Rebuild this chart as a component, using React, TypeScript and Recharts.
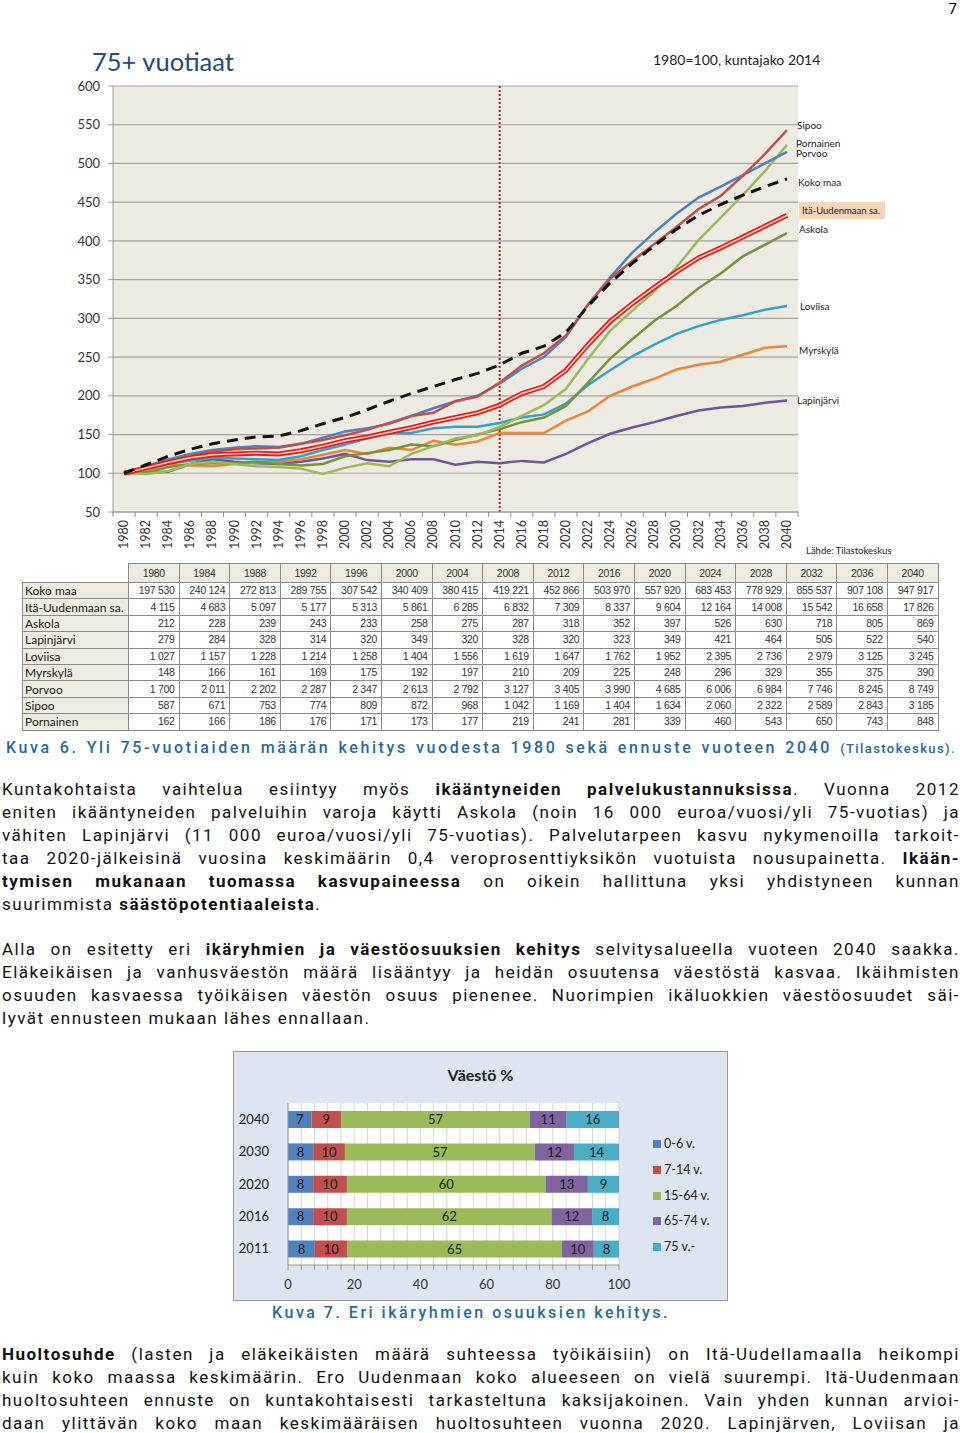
import React from 'react'
import {
  Bar,
  BarChart,
  CartesianGrid,
  LabelList,
  Line,
  LineChart,
  ReferenceLine,
  XAxis,
  YAxis,
} from 'recharts'

// 75+ index lines, 1980=100, every second year
const years = [
  1980, 1982, 1984, 1986, 1988, 1990, 1992, 1994, 1996, 1998, 2000, 2002, 2004, 2006, 2008, 2010,
  2012, 2014, 2016, 2018, 2020, 2022, 2024, 2026, 2028, 2030, 2032, 2034, 2036, 2038, 2040,
]
const markYears = [
  1979, 1981, 1983, 1985, 1987, 1989, 1991, 1993, 1995, 1997, 1999, 2001, 2003, 2005, 2007, 2009,
  2011, 2013, 2015, 2017, 2019, 2021, 2023, 2025, 2027, 2029, 2031, 2033, 2035, 2037, 2039, 2041,
]
const kokoMaa = [100, 111, 122, 131, 138, 143, 147, 148, 155, 164, 172, 182, 193, 203, 212, 221, 229, 240, 255, 264, 282, 316, 346, 371, 394, 415, 433, 447, 459, 470, 480]
const itaUusimaa = [100, 107, 114, 120, 124, 125, 126, 125, 129, 135, 142, 147, 153, 159, 166, 172, 178, 188, 203, 212, 233, 266, 296, 319, 340, 360, 378, 391, 405, 419, 433]
const sipoo = [100, 108, 114, 122, 128, 131, 132, 133, 138, 143, 149, 156, 165, 174, 178, 193, 199, 217, 239, 255, 278, 318, 351, 374, 396, 418, 441, 458, 484, 512, 543]
const porvoo = [100, 109, 118, 125, 130, 133, 135, 134, 138, 146, 154, 158, 164, 174, 184, 193, 200, 216, 235, 250, 276, 318, 353, 385, 411, 435, 456, 470, 485, 500, 515]
const pornainen = [100, 99, 103, 112, 115, 112, 109, 108, 106, 99, 107, 113, 109, 125, 135, 145, 149, 160, 174, 188, 209, 248, 284, 310, 335, 366, 401, 430, 459, 490, 524]
const askola = [100, 101, 108, 112, 113, 113, 115, 112, 110, 112, 122, 126, 130, 137, 135, 143, 150, 157, 166, 172, 187, 217, 248, 273, 297, 316, 339, 358, 380, 395, 410]
const loviisa = [100, 106, 113, 116, 120, 119, 118, 117, 122, 130, 137, 145, 152, 152, 158, 160, 160, 165, 172, 176, 190, 214, 233, 251, 266, 280, 290, 298, 304, 311, 316]
const myrskyla = [100, 104, 112, 110, 109, 112, 114, 115, 118, 124, 130, 125, 133, 130, 142, 137, 141, 152, 152, 152, 168, 180, 200, 212, 222, 234, 240, 244, 253, 262, 264]
const lapinjarvi = [100, 101, 102, 112, 118, 115, 113, 112, 115, 119, 125, 117, 115, 118, 118, 111, 115, 113, 116, 114, 125, 139, 151, 159, 166, 174, 181, 185, 187, 191, 194]
const yTicks = [50, 100, 150, 200, 250, 300, 350, 400, 450, 500, 550, 600]

const lineData = years.map((year, i) => ({
  year,
  kokoMaa: kokoMaa[i],
  itaUusimaa: itaUusimaa[i],
  sipoo: sipoo[i],
  porvoo: porvoo[i],
  pornainen: pornainen[i],
  askola: askola[i],
  loviisa: loviisa[i],
  myrskyla: myrskyla[i],
  lapinjarvi: lapinjarvi[i],
}))

// table under the line chart (number of 75+)
const tableYears = [1980, 1984, 1988, 1992, 1996, 2000, 2004, 2008, 2012, 2016, 2020, 2024, 2028, 2032, 2036, 2040]
const tableNames = ['Koko maa', 'Itä-Uudenmaan sa.', 'Askola', 'Lapinjärvi', 'Loviisa', 'Myrskylä', 'Porvoo', 'Sipoo', 'Pornainen']
const tKokoMaa = [197530, 240124, 272813, 289755, 307542, 340409, 380415, 419221, 452866, 503970, 557920, 683453, 778929, 855537, 907108, 947917]
const tIta = [4115, 4683, 5097, 5177, 5313, 5861, 6285, 6832, 7309, 8337, 9604, 12164, 14008, 15542, 16658, 17826]
const tAskola = [212, 228, 239, 243, 233, 258, 275, 287, 318, 352, 397, 526, 630, 718, 805, 869]
const tLapinjarvi = [279, 284, 328, 314, 320, 349, 320, 328, 320, 323, 349, 421, 464, 505, 522, 540]
const tLoviisa = [1027, 1157, 1228, 1214, 1258, 1404, 1556, 1619, 1647, 1762, 1952, 2395, 2736, 2979, 3125, 3245]
const tMyrskyla = [148, 166, 161, 169, 175, 192, 197, 210, 209, 225, 248, 296, 329, 355, 375, 390]
const tPorvoo = [1700, 2011, 2202, 2287, 2347, 2613, 2792, 3127, 3405, 3990, 4685, 6006, 6984, 7746, 8245, 8749]
const tSipoo = [587, 671, 753, 774, 809, 872, 968, 1042, 1169, 1404, 1634, 2060, 2322, 2589, 2843, 3185]
const tPornainen = [162, 166, 186, 176, 171, 173, 177, 219, 241, 281, 339, 460, 543, 650, 743, 848]
const tableRows = [tKokoMaa, tIta, tAskola, tLapinjarvi, tLoviisa, tMyrskyla, tPorvoo, tSipoo, tPornainen]

// Väestö % stacked bars
const barYears = ['2040', '2030', '2020', '2016', '2011']
const age0to6 = [7.1, 7.6, 7.6, 7.6, 8.1]
const age7to14 = [9.0, 9.6, 10.2, 10.2, 9.9]
const age15to64 = [56.9, 57.4, 60.0, 61.8, 64.7]
const age65to74 = [11.2, 11.8, 12.8, 12.3, 9.7]
const age75 = [15.8, 13.6, 9.4, 8.1, 7.6]
const barTicks = [0, 4, 8, 12, 16, 20, 24, 28, 32, 36, 40, 44, 48, 52, 56, 60, 64, 68, 72, 76, 80, 84, 88, 92, 96, 100]

const barData = barYears.map((year, i) => ({
  year,
  a: age0to6[i],
  b: age7to14[i],
  c: age15to64[i],
  d: age65to74[i],
  e: age75[i],
}))

const barSeries = [
  { key: 'a', name: '0-6 v.', color: '#4F81BD' },
  { key: 'b', name: '7-14 v.', color: '#C0504D' },
  { key: 'c', name: '15-64 v.', color: '#9BBB59' },
  { key: 'd', name: '65-74 v.', color: '#8064A2' },
  { key: 'e', name: '75 v.-', color: '#4BACC6' },
]

const chartFont = 'Lato, "Open Sans", sans-serif'
const textFont = 'Roboto, "Liberation Sans", sans-serif'

const fmt = (n: number) => n.toString().replace(/\B(?=(\d{3})+(?!\d))/g, '\u00A0')

function YearTick({ x, y, payload }: any) {
  if (payload.value % 2 !== 0) {
    return <line x1={x} x2={x} y1={y} y2={y + 5} stroke="#8c8c8c" />
  }
  return (
    <text
      transform={`translate(${x + 4},${y + 8}) rotate(-90)`}
      textAnchor="end"
      fontSize={12.5}
      fontFamily={chartFont}
      fill="#333"
    >
      {payload.value}
    </text>
  )
}

function PercentTick({ x, y, payload }: any) {
  return (
    <g>
      <line x1={x} x2={x} y1={y} y2={y + 5} stroke="#9a9a9a" />
      {payload.value % 20 === 0 && (
        <text x={x} y={y + 24} textAnchor="middle" fontSize={13} fontFamily={chartFont} fill="#333">
          {payload.value}
        </text>
      )}
    </g>
  )
}

const sideLabels = [
  { text: 'Sipoo', x: 797, y: 125 },
  { text: 'Pornainen', x: 796, y: 143 },
  { text: 'Porvoo', x: 796, y: 153 },
  { text: 'Koko maa', x: 798, y: 182 },
  { text: 'Askola', x: 799, y: 229 },
  { text: 'Loviisa', x: 800, y: 306 },
  { text: 'Myrskylä', x: 799, y: 350 },
  { text: 'Lapinjärvi', x: 797, y: 400 },
]

function Line1({ children, last }: { children: React.ReactNode; last?: boolean }) {
  return (
    <div
      style={{
        height: 23,
        lineHeight: '23px',
        textAlign: last ? 'left' : 'justify',
        textAlignLast: last ? 'left' : 'justify',
        overflow: 'visible',
      }}
    >
      {children}
    </div>
  )
}

const paraStyle: React.CSSProperties = {
  position: 'absolute',
  left: 2,
  width: 958,
  fontFamily: textFont,
  fontSize: 17,
  letterSpacing: 1.5,
  color: '#111',
}

const captionColor = '#1F6B99'

export default function App() {
  return (
    <div
      style={{
        position: 'absolute',
        left: 0,
        top: 0,
        width: 960,
        height: 1433,
        background: '#fff',
        overflow: 'hidden',
      }}
    >
      <div style={{ position: 'absolute', right: 3, top: 1, fontFamily: textFont, fontSize: 15, lineHeight: '16px' }}>
        7
      </div>

      {/* line chart */}
      <div style={{ position: 'absolute', left: 0, top: 0 }}>
        <LineChart
          width={960}
          height={560}
          data={lineData}
          margin={{ top: 86, right: 162, left: 53, bottom: 0 }}
        >
          <CartesianGrid vertical={false} fill="#EDEAE1" stroke="#a3a3a3" strokeWidth={1.2} />
          <XAxis
            dataKey="year"
            type="number"
            domain={[1979, 2041]}
            ticks={[...markYears, ...years].sort((a, b) => a - b)}
            interval={0}
            tickLine={false}
            tickSize={0}
            tickMargin={0}
            tick={<YearTick />}
            height={48}
            stroke="#9a9a9a"
          />
          <YAxis
            domain={[50, 600]}
            ticks={yTicks}
            width={60}
            tickSize={5}
            tickMargin={8}
            stroke="#9a9a9a"
            tick={{ fontSize: 13, fontFamily: chartFont, fill: '#333' }}
          />
          <ReferenceLine x={2014} stroke="#B22222" strokeWidth={2} strokeDasharray="2 2" />
          <Line dataKey="lapinjarvi" stroke="#6F559A" strokeWidth={2.5} dot={false} isAnimationActive={false} />
          <Line dataKey="myrskyla" stroke="#E8863A" strokeWidth={2.5} dot={false} isAnimationActive={false} />
          <Line dataKey="loviisa" stroke="#33A3C4" strokeWidth={2.5} dot={false} isAnimationActive={false} />
          <Line dataKey="askola" stroke="#77933C" strokeWidth={2.5} dot={false} isAnimationActive={false} />
          <Line dataKey="pornainen" stroke="#9BBB59" strokeWidth={2.5} dot={false} isAnimationActive={false} />
          <Line dataKey="porvoo" stroke="#4F81BD" strokeWidth={2.5} dot={false} isAnimationActive={false} />
          <Line dataKey="sipoo" stroke="#C0504D" strokeWidth={2.5} dot={false} isAnimationActive={false} />
          <Line dataKey="itaUusimaa" stroke="#E3211C" strokeWidth={5} dot={false} isAnimationActive={false} />
          <Line dataKey="itaUusimaa" stroke="#F4D9D4" strokeWidth={1.4} dot={false} isAnimationActive={false} />
          <Line
            dataKey="kokoMaa"
            stroke="#111"
            strokeWidth={3}
            strokeDasharray="11 7"
            dot={false}
            isAnimationActive={false}
          />
        </LineChart>
      </div>

      <div
        style={{
          position: 'absolute',
          left: 92,
          top: 46,
          fontFamily: chartFont,
          fontSize: 25.5,
          color: '#244A7A',
          lineHeight: '30px',
        }}
      >
        75+ vuotiaat
      </div>
      <div
        style={{
          position: 'absolute',
          left: 653,
          top: 51,
          fontFamily: chartFont,
          fontSize: 14,
          color: '#222',
          lineHeight: '18px',
        }}
      >
        1980=100, kuntajako 2014
      </div>
      {sideLabels.map((l) => (
        <div
          key={l.text}
          style={{
            position: 'absolute',
            left: l.x,
            top: l.y - 7,
            fontFamily: chartFont,
            fontSize: 10,
            lineHeight: '14px',
            color: '#222',
          }}
        >
          {l.text}
        </div>
      ))}
      <div
        style={{
          position: 'absolute',
          left: 799,
          top: 202,
          width: 86,
          height: 17,
          background: '#FAD5B5',
          fontFamily: chartFont,
          fontSize: 9.5,
          lineHeight: '17px',
          color: '#222',
          paddingLeft: 3,
          boxSizing: 'border-box',
        }}
      >
        Itä-Uudenmaan sa.
      </div>
      <div
        style={{
          position: 'absolute',
          left: 806,
          top: 544,
          fontFamily: chartFont,
          fontSize: 9.5,
          lineHeight: '14px',
          color: '#222',
        }}
      >
        Lähde: Tilastokeskus
      </div>

      {/* table */}
      <table
        style={{
          position: 'absolute',
          left: 22,
          top: 563,
          width: 916,
          borderCollapse: 'collapse',
          tableLayout: 'fixed',
          fontFamily: '"Liberation Sans", Arial, sans-serif',
          fontSize: 10.5,
          color: '#333',
        }}
      >
        <colgroup>
          <col style={{ width: 106 }} />
          {tableYears.map((y) => (
            <col key={y} style={{ width: 50.6 }} />
          ))}
        </colgroup>
        <tbody>
          <tr style={{ height: 19 }}>
            <td style={{ border: 'none', padding: 0 }} />
            {tableYears.map((y) => (
              <td
                key={y}
                style={{
                  border: '1px solid #8a8a8a',
                  background: '#EEECE1',
                  textAlign: 'center',
                  padding: 0,
                  letterSpacing: -0.3,
                }}
              >
                {y}
              </td>
            ))}
          </tr>
          {tableRows.map((row, r) => (
            <tr key={tableNames[r]} style={{ height: 16.4 }}>
              <td
                style={{
                  border: '1px solid #8a8a8a',
                  background: '#EEECE1',
                  padding: '0 0 0 2px',
                  fontFamily: chartFont,
                  fontSize: 12,
                  color: '#222',
                  whiteSpace: 'nowrap',
                  lineHeight: '15px',
                }}
              >
                {tableNames[r]}
              </td>
              {row.map((v, c) => (
                <td
                  key={c}
                  style={{
                    border: '1px solid #8a8a8a',
                    textAlign: 'right',
                    padding: '0 4px 0 0',
                    letterSpacing: -0.3,
                    lineHeight: '15px',
                    whiteSpace: 'nowrap',
                  }}
                >
                  {fmt(v)}
                </td>
              ))}
            </tr>
          ))}
        </tbody>
      </table>

      {/* caption 6 */}
      <div
        style={{
          position: 'absolute',
          left: 6,
          top: 738,
          width: 950,
          height: 20,
          lineHeight: '20px',
          fontFamily: textFont,
          fontWeight: 500,
          fontSize: 16,
          letterSpacing: 2.6,
          color: captionColor,
          textAlign: 'justify',
          textAlignLast: 'justify',
        }}
      >
        Kuva 6. Yli 75-vuotiaiden määrän kehitys vuodesta 1980 sekä ennuste vuoteen 2040{' '}
        <span style={{ fontSize: 13, letterSpacing: 1.4 }}>(Tilastokeskus).</span>
      </div>

      {/* paragraph 1 */}
      <div style={{ ...paraStyle, top: 777.5 }}>
        <Line1>
          Kuntakohtaista vaihtelua esiintyy myös <b>ikääntyneiden palvelukustannuksissa</b>. Vuonna 2012
        </Line1>
        <Line1>
          eniten ikääntyneiden palveluihin varoja käytti Askola (noin 16 000 euroa/vuosi/yli 75-vuotias) ja
        </Line1>
        <Line1>
          vähiten Lapinjärvi (11 000 euroa/vuosi/yli 75-vuotias). Palvelutarpeen kasvu nykymenoilla tarkoit-
        </Line1>
        <Line1>
          taa 2020-jälkeisinä vuosina keskimäärin 0,4 veroprosenttiyksikön vuotuista nousupainetta. <b>Ikään-</b>
        </Line1>
        <Line1>
          <b>tymisen mukanaan tuomassa kasvupaineessa</b> on oikein hallittuna yksi yhdistyneen kunnan
        </Line1>
        <Line1 last>
          suurimmista <b>säästöpotentiaaleista</b>.
        </Line1>
      </div>

      {/* paragraph 2 */}
      <div style={{ ...paraStyle, top: 937.5 }}>
        <Line1>
          Alla on esitetty eri <b>ikäryhmien ja väestöosuuksien kehitys</b> selvitysalueella vuoteen 2040 saakka.
        </Line1>
        <Line1>Eläkeikäisen ja vanhusväestön määrä lisääntyy ja heidän osuutensa väestöstä kasvaa. Ikäihmisten</Line1>
        <Line1>osuuden kasvaessa työikäisen väestön osuus pienenee. Nuorimpien ikäluokkien väestöosuudet säi-</Line1>
        <Line1 last>lyvät ennusteen mukaan lähes ennallaan.</Line1>
      </div>

      {/* bar chart box */}
      <div
        style={{
          position: 'absolute',
          left: 233,
          top: 1051,
          width: 495,
          height: 250,
          boxSizing: 'border-box',
          border: '1px solid #9a9a9a',
          background: '#DCE5F0',
        }}
      >
        <div
          style={{
            position: 'absolute',
            left: 0,
            width: '100%',
            top: 13,
            textAlign: 'center',
            fontFamily: chartFont,
            fontWeight: 700,
            fontSize: 16,
            color: '#222',
            lineHeight: '20px',
          }}
        >
          Väestö %
        </div>
        <BarChart
          width={493}
          height={248}
          data={barData}
          layout="vertical"
          margin={{ top: 51, right: 108, left: 0, bottom: 0 }}
          barSize={17}
        >
          <CartesianGrid horizontal={false} fill="#fff" stroke="#d4d4d4" />
          <XAxis
            type="number"
            domain={[0, 100]}
            ticks={barTicks}
            interval={0}
            tickLine={false}
            tickSize={0}
            tickMargin={0}
            tick={<PercentTick />}
            height={35}
            stroke="#9a9a9a"
          />
          <YAxis
            type="category"
            dataKey="year"
            width={54}
            tickLine={false}
            tickMargin={13}
            stroke="#9a9a9a"
            tick={{ fontSize: 13, fontFamily: chartFont, fill: '#222' }}
          />
          {barSeries.map((s) => (
            <Bar key={s.key} dataKey={s.key} stackId="p" fill={s.color} isAnimationActive={false}>
              <LabelList
                dataKey={s.key}
                position="center"
                formatter={(v: any) => Math.round(Number(v))}
                style={{ fontSize: 13, fontFamily: chartFont, fill: '#1b1b1b' }}
              />
            </Bar>
          ))}
        </BarChart>
        {barSeries.map((s, i) => (
          <div
            key={s.key}
            style={{
              position: 'absolute',
              left: 419,
              top: 84 + i * 25.8,
              fontFamily: chartFont,
              fontSize: 12.5,
              lineHeight: '16px',
              color: '#222',
              display: 'flex',
              alignItems: 'center',
            }}
          >
            <span style={{ width: 8, height: 8, background: s.color, marginRight: 3, display: 'inline-block' }} />
            {s.name}
          </div>
        ))}
      </div>

      {/* caption 7 */}
      <div
        style={{
          position: 'absolute',
          left: 0,
          width: 942,
          top: 1303,
          textAlign: 'center',
          lineHeight: '20px',
          fontFamily: textFont,
          fontWeight: 500,
          fontSize: 16,
          letterSpacing: 2.5,
          color: captionColor,
        }}
      >
        Kuva 7. Eri ikäryhmien osuuksien kehitys.
      </div>

      {/* paragraph 3 */}
      <div style={{ ...paraStyle, top: 1342.5 }}>
        <Line1>
          <b>Huoltosuhde</b> (lasten ja eläkeikäisten määrä suhteessa työikäisiin) on Itä-Uudellamaalla heikompi
        </Line1>
        <Line1>kuin koko maassa keskimäärin. Ero Uudenmaan koko alueeseen on vielä suurempi. Itä-Uudenmaan</Line1>
        <Line1>huoltosuhteen ennuste on kuntakohtaisesti tarkasteltuna kaksijakoinen. Vain yhden kunnan arvioi-</Line1>
        <Line1>daan ylittävän koko maan keskimääräisen huoltosuhteen vuonna 2020. Lapinjärven, Loviisan ja</Line1>
      </div>
    </div>
  )
}
